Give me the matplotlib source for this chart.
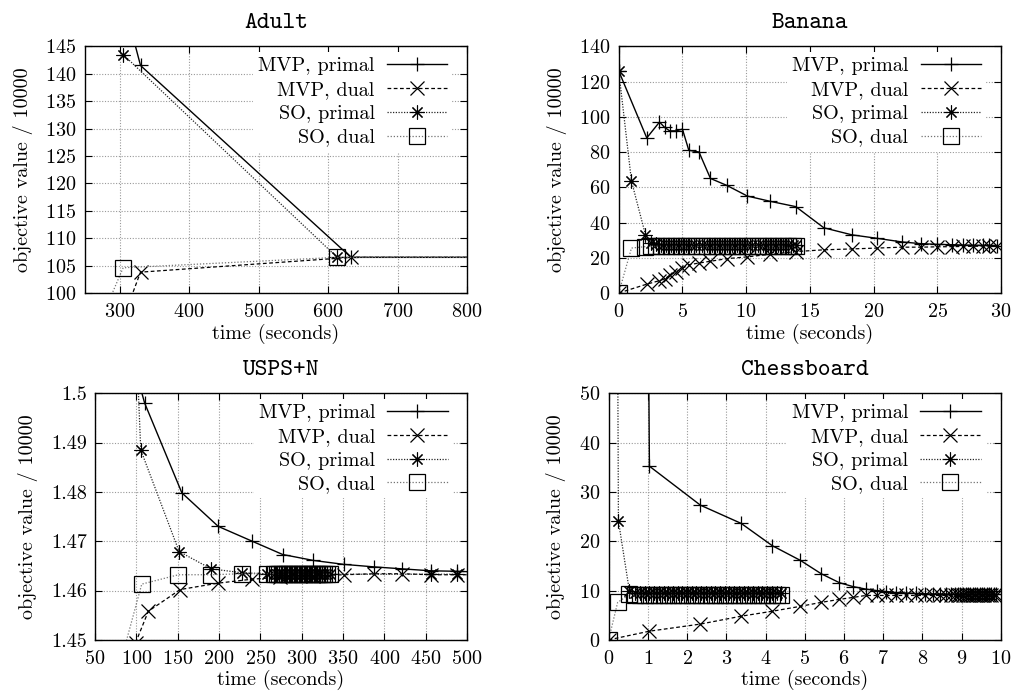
import numpy as np
import matplotlib.pyplot as plt
from matplotlib.ticker import FormatStrFormatter, MultipleLocator

plt.rcParams['font.family'] = 'cmr10'
plt.rcParams['axes.formatter.use_mathtext'] = True
plt.rcParams['axes.unicode_minus'] = False

#------------------------------------
# Adult
adult_mvp_t      = [300, 330, 633, 850]
adult_mvp_primal = [156, 141.5, 106.5, 106.5]
adult_mvpd_t     = [310, 330, 633, 850]
adult_mvp_dual   = [97, 103.8, 106.5, 106.5]
adult_sop_t      = [305, 613, 850]
adult_so_primal  = [143.5, 106.5, 106.5]
adult_sod_t      = [276, 305, 613, 850]
adult_so_dual    = [96, 104.6, 106.5, 106.5]

# Banana
banana_mvp_t = [0, 2.2, 3.2, 3.6, 4.0, 4.5, 5.0, 5.5, 6.3, 7.2, 8.5, 10.1, 11.9, 13.9,
                16.1, 18.3, 20.3, 22.2, 23.7, 25.0, 26.2, 27.0, 27.8, 28.6, 29.1, 29.7]
banana_mvp_primal = [126, 88, 97, 94, 92, 92, 93, 81, 80, 65, 61, 55, 52, 49,
                     37, 33, 31, 29, 28, 27.6, 27.4, 27.2, 27.1, 27.0, 27.0, 26.9]
banana_mvp_dual = [0, 5, 7, 8, 10, 12, 14, 16, 17, 18, 19.5, 20.5, 22, 23.5,
                   24.5, 25, 25.5, 26, 26, 26.2, 26.3, 26.4, 26.5, 26.6, 26.7, 26.8]
banana_so_t = [0, 1.0, 2.1, 2.5, 2.9, 3.3, 3.7, 4.1, 4.5, 4.9, 5.3, 5.7, 6.1, 6.5, 6.9, 7.3, 7.7,
               8.1, 8.5, 8.9, 9.3, 9.7, 10.1, 10.5, 10.9, 11.3, 11.7, 12.1, 12.5, 12.9, 13.3, 13.7, 13.9]
banana_so_primal = [126, 63.5, 33.0, 28.5, 27.8, 27.5, 27.4, 27.3, 27.3, 27.2, 27.2, 27.2,
                    27.1, 27.1, 27.1, 27.1, 27.1, 27.0, 27.0, 27.0, 27.0, 27.0, 27.0, 27.0,
                    27.0, 27.0, 27.0, 27.0, 27.0, 27.0, 27.0, 27.0, 27.0]
banana_so_dual = [0, 25.5, 26.3, 26.4, 26.5, 26.5, 26.5, 26.5, 26.5, 26.5, 26.5, 26.5,
                  26.5, 26.5, 26.5, 26.5, 26.5, 26.5, 26.5, 26.5, 26.5, 26.5, 26.5, 26.5,
                  26.5, 26.5, 26.5, 26.5, 26.5, 26.5, 26.5, 26.5, 26.5]

# USPS+N
usps_mvp_t = [100, 110, 155, 199, 240, 277, 314, 351, 387, 421, 456, 488, 520]
usps_mvp_primal = [1.504, 1.498, 1.4798, 1.4730, 1.4700, 1.4673, 1.4661, 1.4653,
                   1.4648, 1.4644, 1.4640, 1.4639, 1.4637]
usps_mvpd_t = [99, 114.5, 153, 199, 240, 274, 314, 351, 387, 421, 456, 488, 520]
usps_mvp_dual = [1.4494, 1.4558, 1.4602, 1.4615, 1.4623, 1.4627, 1.4630, 1.4632,
                 1.4634, 1.4634, 1.4632, 1.4632, 1.4632]
usps_so_tail_t = [270, 273, 276, 279, 282, 285, 288, 291, 294, 297, 300, 303, 306,
                  309, 312, 315, 318, 321, 324, 327, 330, 334]
usps_sop_t = [100, 105.3, 151.7, 190.4, 227.6, 257.9, 266] + usps_so_tail_t + [456, 488]
usps_so_primal = [1.51, 1.4885, 1.4679, 1.4644, 1.4636, 1.4634, 1.4634,
                  1.4634, 1.4634, 1.4634, 1.4634, 1.4634, 1.4634, 1.4634, 1.4634, 1.4634, 1.4634, 1.4633,
                  1.4633, 1.4633, 1.4633, 1.4633, 1.4633, 1.4633, 1.4633, 1.4633, 1.4633, 1.4633, 1.4633,
                  1.4633, 1.4633]
usps_sod_t = [85, 106.5, 150.9, 190.4, 227.6, 257.9, 266] + usps_so_tail_t
usps_so_dual = [1.448, 1.4613, 1.4632, 1.4632, 1.4634, 1.4634, 1.4634,
                1.4633, 1.4633, 1.4633, 1.4633, 1.4633, 1.4633, 1.4633, 1.4633, 1.4633, 1.4633, 1.4633,
                1.4633, 1.4633, 1.4633, 1.4633, 1.4633, 1.4633, 1.4633, 1.4633, 1.4633, 1.4633, 1.4633]

# Chessboard
chess_mvp_tail_t = [1.04, 2.34, 3.38, 4.17, 4.89, 5.42, 5.88, 6.23, 6.55, 6.83, 7.08, 7.33,
                    7.58, 7.83, 8.06, 8.27, 8.45, 8.6, 8.72, 8.82, 8.9, 8.97, 9.04, 9.1, 9.16,
                    9.22, 9.28, 9.34, 9.4, 9.46, 9.52, 9.58, 9.64, 9.7, 9.76, 9.82, 9.88]
chess_mvp_t = [1.0] + chess_mvp_tail_t
chess_mvp_primal = [80, 35.2, 27.3, 23.6, 19.1, 16.1, 13.4, 11.6, 10.8, 10.3, 10.0, 9.8, 9.6,
                    9.5, 9.4, 9.35, 9.3, 9.3, 9.25, 9.25, 9.2, 9.2, 9.2, 9.2, 9.2, 9.2,
                    9.2, 9.2, 9.2, 9.2, 9.2, 9.2, 9.2, 9.2, 9.2, 9.2, 9.2, 9.2]
chess_mvpd_t = [0] + chess_mvp_tail_t
chess_mvp_dual = [0, 1.76, 3.2, 4.8, 5.8, 6.8, 7.6, 8.2, 8.6, 9.0, 9.0, 9.0, 9.0,
                  9.0, 9.0, 9.0, 9.0, 9.0, 9.0, 9.0, 9.0, 9.0, 9.0, 9.0, 9.0, 9.0,
                  9.0, 9.0, 9.0, 9.0, 9.0, 9.0, 9.0, 9.0, 9.0, 9.0, 9.0, 9.0]
chess_so_tail_t = [0.8, 0.92, 1.04, 1.16, 1.28, 1.4, 1.52, 1.64, 1.76, 1.88, 2.0, 2.12, 2.24,
                   2.36, 2.48, 2.6, 2.72, 2.84, 2.96, 3.08, 3.2, 3.32, 3.44, 3.56, 3.68, 3.8,
                   3.92, 4.04, 4.16, 4.28, 4.4]
chess_sop_t = [0.22, 0.25, 0.53, 0.66] + chess_so_tail_t
chess_so_primal = [80, 24.1, 9.9, 9.6, 9.5, 9.5, 9.5, 9.5, 9.5, 9.5, 9.5, 9.5, 9.5, 9.5, 9.5,
                   9.5, 9.5, 9.5, 9.5, 9.5, 9.5, 9.5, 9.5, 9.5, 9.5, 9.5, 9.5, 9.5, 9.5,
                   9.5, 9.5, 9.5, 9.5, 9.5, 9.5]
chess_sod_t = [0, 0.23, 0.53, 0.66] + chess_so_tail_t
chess_so_dual = [0, 7.6, 9.2, 9.1, 9.0, 9.0, 9.0, 9.0, 9.0, 9.0, 9.0, 9.0, 9.0, 9.0, 9.0,
                 9.0, 9.0, 9.0, 9.0, 9.0, 9.0, 9.0, 9.0, 9.0, 9.0, 9.0, 9.0, 9.0, 9.0,
                 9.0, 9.0, 9.0, 9.0, 9.0, 9.0]

#------------------------------------

fig = plt.figure(figsize=(10.11, 6.91), dpi=100)

asterisk = (8, 2, 0)
FS = 14.5


def panel(rect, title, series, xlim, ylim, xstep, ystep, yfmt=None):
    ax = fig.add_axes(rect)
    (mt, mp), (mdt, md), (st, sp), (sdt, sd) = series
    ax.plot(mt, mp, c='k', ls='-', lw=1.0, marker='+', ms=10, mew=0.9,
            label='MVP, primal')
    ax.plot(mdt, md, c='k', ls=(0, (3, 2)), lw=0.9, marker='x', ms=9.5, mew=0.9,
            label='MVP, dual')
    ax.plot(st, sp, c='0.15', ls=(0, (1, 1.2)), lw=0.9, marker=asterisk, ms=10,
            mew=0.8, mec='k', label='SO, primal')
    ax.plot(sdt, sd, c='0.45', ls=(0, (1, 1.5)), lw=0.9, marker='s', ms=11,
            mew=0.9, mec='k', mfc='none', label='SO, dual')
    ax.set_xlim(*xlim)
    ax.set_ylim(*ylim)
    ax.xaxis.set_major_locator(MultipleLocator(xstep))
    ax.yaxis.set_major_locator(MultipleLocator(ystep))
    if yfmt:
        ax.yaxis.set_major_formatter(FormatStrFormatter(yfmt))
    ax.grid(True, color='0.6', ls=(0, (1, 1.5)), lw=0.8)
    ax.tick_params(direction='in', top=True, right=True, length=5, labelsize=FS)
    ax.tick_params(axis='x', pad=7)
    ax.tick_params(axis='y', pad=6)
    for s in ax.spines.values():
        s.set_linewidth(1.0)
    ax.set_title(title, family='cmtt10', fontsize=17.5, pad=13)
    ax.set_xlabel('time (seconds)', fontsize=FS, labelpad=2)
    ax.set_ylabel('objective value / 10000', fontsize=FS, labelpad=9)
    ax.legend(loc='upper right', bbox_to_anchor=(0.961, 0.976),
              markerfirst=False, numpoints=1, fontsize=FS,
              handlelength=3.0, handletextpad=0.6, labelspacing=0.28,
              borderpad=0.25, borderaxespad=0.0, frameon=True, fancybox=False,
              framealpha=1, facecolor='white', edgecolor='none')
    return ax


panel([0.084, 0.576, 0.378, 0.357], 'Adult',
      [(adult_mvp_t, adult_mvp_primal), (adult_mvpd_t, adult_mvp_dual),
       (adult_sop_t, adult_so_primal), (adult_sod_t, adult_so_dual)],
      (250, 800), (100, 145), 100, 5)

panel([0.612, 0.576, 0.378, 0.357], 'Banana',
      [(banana_mvp_t, banana_mvp_primal), (banana_mvp_t, banana_mvp_dual),
       (banana_so_t, banana_so_primal), (banana_so_t, banana_so_dual)],
      (0, 30), (0, 140), 5, 20)

panel([0.094, 0.074, 0.368, 0.357], 'USPS+N',
      [(usps_mvp_t, usps_mvp_primal), (usps_mvpd_t, usps_mvp_dual),
       (usps_sop_t, usps_so_primal), (usps_sod_t, usps_so_dual)],
      (50, 500), (1.45, 1.50), 50, 0.01, '%g')

panel([0.602, 0.074, 0.388, 0.357], 'Chessboard',
      [(chess_mvp_t, chess_mvp_primal), (chess_mvpd_t, chess_mvp_dual),
       (chess_sop_t, chess_so_primal), (chess_sod_t, chess_so_dual)],
      (0, 10), (0, 50), 1, 10)

plt.savefig("out.png", dpi=100)
